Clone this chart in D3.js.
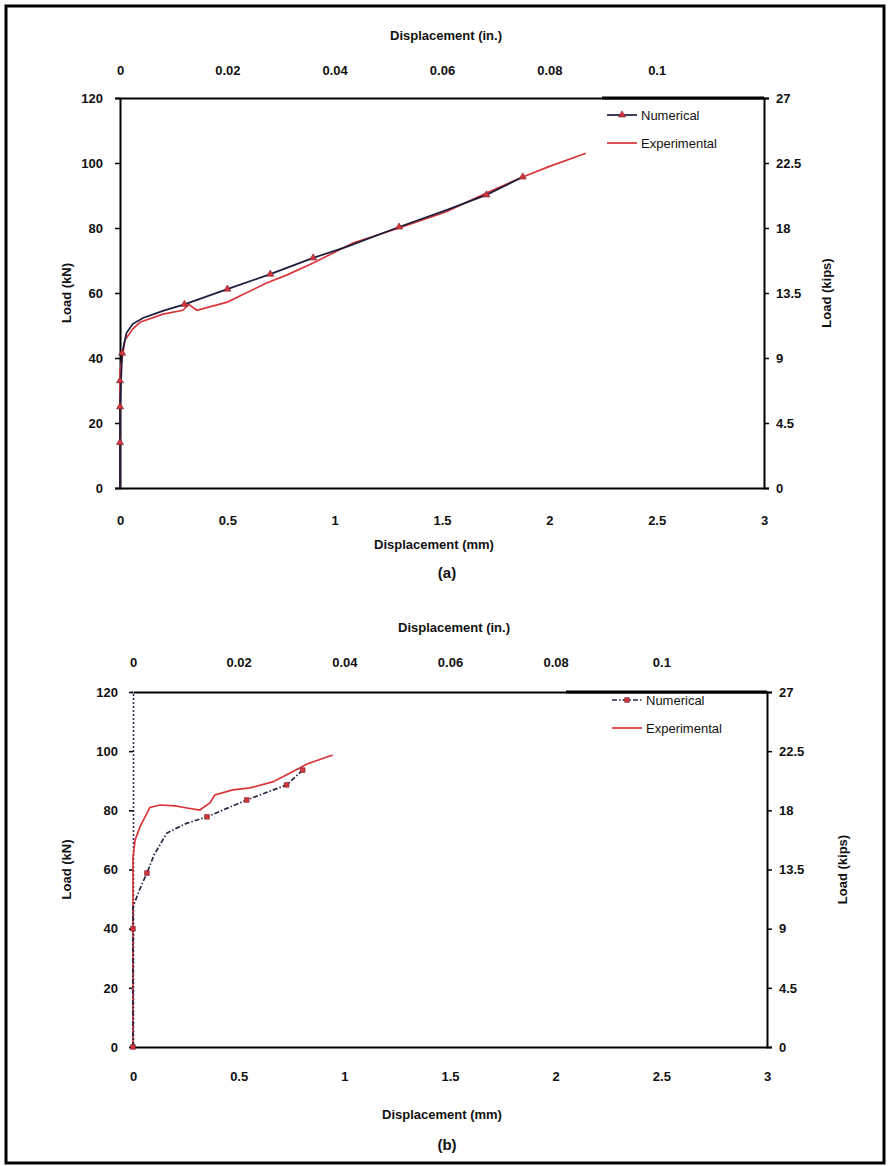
<!DOCTYPE html>
<html>
<head>
<meta charset="utf-8">
<script src="https://cdn.jsdelivr.net/npm/d3@7"></script>
<style>
  body { margin: 0; background: #fff; }
  text { font-family: "Liberation Sans", Arial, sans-serif; fill: #111; }
</style>
</head>
<body>
<svg id="fig" width="891" height="1166"></svg>
<script>
// panel (a): displacement (mm) vs load (kN)
var expA = [[0,0],[0,20],[0,36],[0.023,45.5],[0.06,49],[0.093,51],[0.2,53.5],[0.293,54.7],
  [0.32,56.5],[0.358,54.7],[0.5,57.2],[0.68,63],[0.776,65.5],[0.9,69.2],[1.085,75.4],
  [1.3,80],[1.52,85],[1.707,90.8],[1.876,95.7],[1.995,98.8],[2.17,103]];
var numA = [[0,0],[0,12],[0,25],[0.005,33],[0.01,41.5],[0.03,47.7],[0.06,50.5],[0.107,52.3],
  [0.2,54.5],[0.3,56.5],[0.5,61.2],[0.7,65.8],[0.9,70.8],[1.055,74.2],[1.3,80.3],
  [1.52,85.5],[1.707,90.2],[1.876,95.7]];
var numMarkA = [[0,14],[0,25],[0,33],[0.01,41.5],[0.3,56.5],[0.5,61.2],[0.7,65.8],
  [0.9,70.8],[1.3,80.3],[1.707,90.2],[1.876,95.7]];

// panel (b)
var expB = [[0,0],[0,40],[0,64],[0.01,70],[0.033,74.4],[0.08,81],[0.128,81.8],[0.2,81.5],
  [0.255,80.8],[0.316,80.1],[0.364,82.5],[0.387,85.2],[0.472,86.9],[0.553,87.6],
  [0.661,89.6],[0.789,94.3],[0.82,95.6],[0.945,98.7]];
var numB = [[0,0],[0,40],[0,47.3],[0.03,53],[0.066,58.8],[0.1,65],[0.16,72.3],[0.25,75.5],
  [0.35,77.8],[0.538,83.5],[0.727,88.6],[0.803,93.6]];
var numMarkB = [[0,0],[0,40],[0.066,58.8],[0.35,77.8],[0.538,83.5],[0.727,88.6],[0.803,93.6]];

var mmTicks = [0,0.5,1,1.5,2,2.5,3];
var inTicks = [0,0.02,0.04,0.06,0.08,0.1];
var knTicks = [0,20,40,60,80,100,120];
var kipTicks = [0,4.5,9,13.5,18,22.5,27];
var seriesNames = ["Numerical","Experimental"];

var svg = d3.select("#fig");

// outer frame
svg.append("rect")
  .attr("x", 6).attr("y", 6).attr("width", 878).attr("height", 1157)
  .attr("fill", "none").attr("stroke", "#000").attr("stroke-width", 3);

var panels = [
  { left: 120, right: 764, top: 98, bottom: 488,
    inTitleY: 40, inPad: 23, mmPad: 28, mmTitleY: 549, capY: 578, cap: "(a)",
    knX: 66, kipX: 826, tickL: 5, padL: 12, leftDash: null,
    exp: expA, num: numA, marks: numMarkA, numColor: "#1c1c3c", dash: null,
    symbol: d3.symbolTriangle, legX: 607, legY: 115, boxX: 602 },
  { left: 133, right: 767, top: 692, bottom: 1047,
    inTitleY: 632, inPad: 25, mmPad: 25, mmTitleY: 1119, capY: 1150, cap: "(b)",
    knX: 66, kipX: 842, tickL: 4, padL: 11, leftDash: "2,2",
    exp: expB, num: numB, marks: numMarkB, numColor: "#2a2440", dash: "5,2,1.5,2",
    symbol: d3.symbolSquare, legX: 612, legY: 700, boxX: 566 }
];

panels.forEach(function(p) {
  var x = d3.scaleLinear().domain([0, 3]).range([p.left, p.right]);
  var xin = d3.scaleLinear().domain([0, 0.12]).range([p.left, p.right]);
  var y = d3.scaleLinear().domain([0, 120]).range([p.bottom, p.top]);
  var ykip = d3.scaleLinear().domain([0, 27]).range([p.bottom, p.top]);

  var g = svg.append("g");

  function styleAxis(sel) {
    sel.select(".domain").attr("stroke", "#000").attr("stroke-width", 2);
    sel.selectAll(".tick line").attr("stroke", "#000").attr("stroke-width", 1.5);
    sel.selectAll("text").attr("font-size", 13).attr("font-weight", "bold").attr("fill", "#222");
  }

  g.append("g").attr("transform", "translate(0," + p.bottom + ")")
    .call(d3.axisBottom(x).tickValues(mmTicks).tickSize(0).tickPadding(p.mmPad).tickFormat(d3.format("")))
    .call(styleAxis);
  g.append("g").attr("transform", "translate(0," + p.top + ")")
    .call(d3.axisTop(xin).tickValues(inTicks).tickSize(0).tickPadding(p.inPad).tickFormat(d3.format("")))
    .call(styleAxis);
  var yl = g.append("g").attr("transform", "translate(" + p.left + ",0)")
    .call(d3.axisLeft(y).tickValues(knTicks).tickSize(p.tickL).tickPadding(p.padL))
    .call(styleAxis);
  if (p.leftDash) {
    yl.select(".domain").attr("stroke", "#3a2a5a").attr("stroke-width", 1.6)
      .attr("stroke-dasharray", p.leftDash);
  }
  g.append("g").attr("transform", "translate(" + p.right + ",0)")
    .call(d3.axisRight(ykip).tickValues(kipTicks).tickSize(5).tickPadding(7).tickFormat(d3.format("")))
    .call(styleAxis);

  // legend box top edge sits on the plot border
  g.append("line").attr("x1", p.boxX).attr("x2", p.right).attr("y1", p.top).attr("y2", p.top)
    .attr("stroke", "#000").attr("stroke-width", 3);

  // axis titles
  var cx = (p.left + p.right) / 2;
  g.append("text").attr("x", cx + 4).attr("y", p.inTitleY).attr("text-anchor", "middle")
    .attr("font-size", 13).attr("font-weight", "bold").text("Displacement (in.)");
  g.append("text").attr("x", cx - 8).attr("y", p.mmTitleY).attr("text-anchor", "middle")
    .attr("font-size", 13).attr("font-weight", "bold").text("Displacement (mm)");
  g.append("text").attr("x", 447).attr("y", p.capY).attr("text-anchor", "middle")
    .attr("font-size", 15).attr("font-weight", "bold").text(p.cap);
  var my = (p.top + p.bottom) / 2;
  g.append("text").attr("transform", "translate(" + p.knX + "," + my + ") rotate(-90)")
    .attr("text-anchor", "middle").attr("dy", "0.35em")
    .attr("font-size", 13).attr("font-weight", "bold").text("Load (kN)");
  g.append("text").attr("transform", "translate(" + p.kipX + "," + my + ") rotate(-90)")
    .attr("text-anchor", "middle").attr("dy", "0.35em")
    .attr("font-size", 13).attr("font-weight", "bold").text("Load (kips)");

  var line = d3.line().x(function(d) { return x(d[0]); }).y(function(d) { return y(d[1]); });

  g.append("path").datum(p.exp).attr("d", line)
    .attr("fill", "none").attr("stroke", "#d8363a").attr("stroke-width", 1.7);
  g.append("path").datum(p.num).attr("d", line)
    .attr("fill", "none").attr("stroke", p.numColor).attr("stroke-width", 1.7)
    .attr("stroke-dasharray", p.dash);

  var sym = d3.symbol().type(p.symbol).size(22);
  g.selectAll(".mk").data(p.marks).enter().append("path")
    .attr("transform", function(d) { return "translate(" + x(d[0]) + "," + y(d[1]) + ")"; })
    .attr("d", sym).attr("fill", "#d8363a").attr("stroke", "#6a2030").attr("stroke-width", 0.6);

  // legend
  var lg = g.append("g").attr("transform", "translate(" + p.legX + "," + p.legY + ")");
  seriesNames.forEach(function(name, i) {
    var ly = i * 28;
    lg.append("line").attr("x1", 0).attr("x2", 30).attr("y1", ly).attr("y2", ly)
      .attr("stroke", i === 0 ? p.numColor : "#d8363a").attr("stroke-width", 1.7)
      .attr("stroke-dasharray", i === 0 ? p.dash : null);
    if (i === 0) {
      lg.append("path").attr("transform", "translate(15," + ly + ")").attr("d", sym)
        .attr("fill", "#d8363a").attr("stroke", "#6a2030").attr("stroke-width", 0.6);
    }
    lg.append("text").attr("x", 34).attr("y", ly).attr("dy", "0.35em")
      .attr("font-size", 13).text(name);
  });
});
</script>
</body>
</html>
